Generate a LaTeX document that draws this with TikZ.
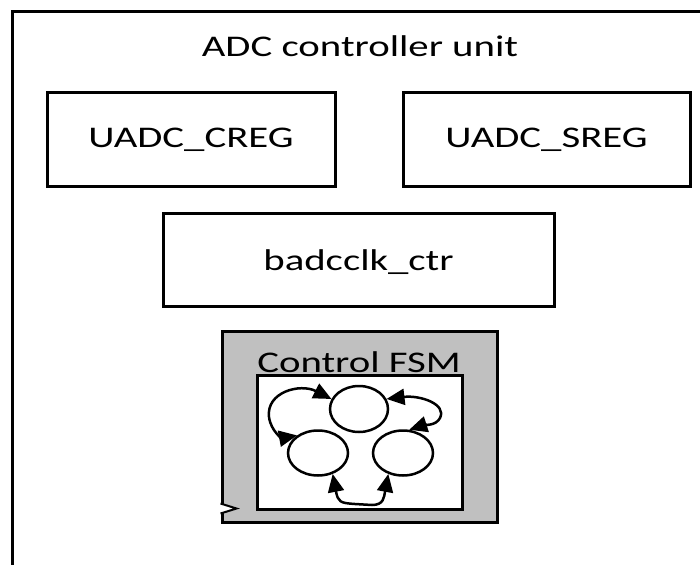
\documentclass[tikz,border=0pt]{standalone}
\usepackage{fontspec}
\setmainfont{Carlito}[FakeStretch=1.36]
\usetikzlibrary{arrows.meta,shapes.geometric}
\tikzset{tip/.tip={Triangle[length=18pt,width=16pt]}}
\begin{document}
\begin{tikzpicture}[x=1pt,y=-1pt,
  box/.style={draw,line width=3pt,inner sep=0pt,font=\fontsize{30}{36}\selectfont},
  lbl/.style={inner sep=0pt,anchor=base,font=\fontsize{30}{36}\selectfont},
  state/.style={draw,ellipse,line width=2.5pt,fill=white,inner sep=0pt},
  trans/.style={line width=2.5pt,tip-tip}]
\useasboundingbox (0,0) rectangle (700,564);
\clip (0,0) rectangle (700,564);
\fill[white] (0,0) rectangle (700,564);
\node[draw,line width=3pt,anchor=north west,minimum width=740pt,minimum height=620pt,inner sep=0pt] (unit) at (11,10) {};
\node[lbl] (title) at (360,57) {ADC controller unit};
\node[box,minimum width=288pt,minimum height=93pt] (creg) at (191,139.5) {};
\node[lbl] at (191,147) {UADC\_CREG};
\node[box,minimum width=287pt,minimum height=93pt] (sreg) at (546.5,139.5) {};
\node[lbl] at (546.5,147) {UADC\_SREG};
\node[box,minimum width=391pt,minimum height=93pt] (ctr) at (358.5,259.5) {};
\node[lbl] at (358.5,270) {badcclk\_ctr};
\node[box,fill={rgb,255:red,192;green,192;blue,192},minimum width=275pt,minimum height=191pt] (fsm) at (359.5,426.5) {};
\node[box,fill=white,minimum width=205pt,minimum height=134pt] (inner) at (359.5,442) {};
\node[lbl] (fsmlbl) at (359,372) {Control FSM};
\node[state,minimum width=58pt,minimum height=46pt] (top) at (359,409) {};
\node[state,minimum width=60pt,minimum height=45pt] (lft) at (318,453) {};
\node[state,minimum width=60pt,minimum height=45pt] (rgt) at (403,453) {};
\draw[trans] (top.160) .. controls (300,383) and (266,392) .. (269,417) .. controls (271,432) and (283,438) .. (lft.140);
\draw[trans] (top.20) .. controls (420,395) and (447,404) .. (440,418) .. controls (436,426) and (424,425) .. (rgt.75);
\draw[trans] (lft.-55) .. controls (338,502) and (340,503) .. (355,504) -- (372,505) .. controls (384,505) and (384,497) .. (rgt.-125);
\draw[line width=2pt,fill=white,line join=miter] (fsm.south west) ++(0,-20) -- ++(16,5) -- ++(-16,5);
\end{tikzpicture}
\end{document}
